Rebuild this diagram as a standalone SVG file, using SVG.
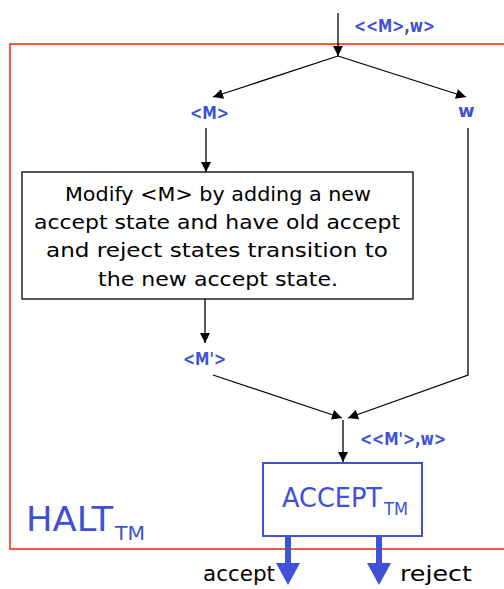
<svg xmlns="http://www.w3.org/2000/svg" width="504" height="589" viewBox="0 0 504 589">
  <defs>
    <marker id="arr" viewBox="0 0 10 10" refX="10" refY="5" markerWidth="11" markerHeight="10" markerUnits="userSpaceOnUse" orient="auto">
      <path d="M0,0 L10,5 L0,10 z" fill="#000"/>
    </marker>
    <style>
      .t { font-family: "Comic Sans MS", "DejaVu Sans", sans-serif; }
      .lbl { font-family: "Comic Sans MS", "DejaVu Sans", sans-serif; fill: #4050d8; font-size: 18px; font-weight: bold; }
      .box-text { font-family: "Comic Sans MS", "DejaVu Sans", sans-serif; fill: #000; font-size: 19px; text-anchor: middle; }
      .conn { stroke: #000; stroke-width: 1.3; fill: none; }
      .blue { fill: #4050d8; }
    </style>
  </defs>

  <rect width="504" height="589" fill="#fff"/>

  <!-- outer machine boundary -->
  <g id="halt">
    <rect x="10" y="44" width="500" height="505" fill="none" stroke="#ff2a10" stroke-width="1.6"/>
    <text class="t blue" x="26" y="531" font-size="33" textLength="87" lengthAdjust="spacingAndGlyphs">HALT</text>
    <text class="t blue" x="115" y="540" font-size="20" textLength="30" lengthAdjust="spacingAndGlyphs">TM</text>
  </g>

  <!-- modifier step -->
  <g id="modify">
    <rect x="22" y="172" width="391" height="127" fill="#fff" stroke="#000" stroke-width="1.3"/>
    <text class="box-text" x="218" y="201" textLength="306" lengthAdjust="spacingAndGlyphs">Modify &lt;M&gt; by adding a new</text>
    <text class="box-text" x="217" y="229" textLength="366" lengthAdjust="spacingAndGlyphs">accept state and have old accept</text>
    <text class="box-text" x="217" y="257" textLength="342" lengthAdjust="spacingAndGlyphs">and reject states transition to</text>
    <text class="box-text" x="218" y="286" textLength="240" lengthAdjust="spacingAndGlyphs">the new accept state.</text>
  </g>

  <!-- decider for ACCEPT_TM -->
  <g id="accept-tm">
    <rect x="263" y="463" width="159" height="73" fill="#fff" stroke="#4050d8" stroke-width="2"/>
    <text class="t blue" x="282" y="507" font-size="26" textLength="100" lengthAdjust="spacingAndGlyphs">ACCEPT</text>
    <text class="t blue" x="384" y="515" font-size="17" textLength="24" lengthAdjust="spacingAndGlyphs">TM</text>
  </g>

  <!-- input/output labels -->
  <g id="labels">
    <text class="lbl" x="354" y="32" textLength="81" lengthAdjust="spacingAndGlyphs">&lt;&lt;M&gt;,w&gt;</text>
    <text class="lbl" x="190" y="119" textLength="39" lengthAdjust="spacingAndGlyphs">&lt;M&gt;</text>
    <text class="lbl" x="458" y="117">w</text>
    <text class="lbl" x="183" y="365" textLength="43" lengthAdjust="spacingAndGlyphs">&lt;M'&gt;</text>
    <text class="lbl" x="360" y="445" textLength="86" lengthAdjust="spacingAndGlyphs">&lt;&lt;M'&gt;,w&gt;</text>
    <text class="t" x="203" y="581" font-size="21" textLength="72" lengthAdjust="spacingAndGlyphs">accept</text>
    <text class="t" x="400" y="581" font-size="21" textLength="72" lengthAdjust="spacingAndGlyphs">reject</text>
  </g>

  <!-- connectors -->
  <g id="connectors">
    <line class="conn" x1="338" y1="13" x2="338" y2="56" marker-end="url(#arr)"/>
    <line class="conn" x1="338" y1="56" x2="213" y2="97" marker-end="url(#arr)"/>
    <line class="conn" x1="338" y1="56" x2="466" y2="97" marker-end="url(#arr)"/>
    <line class="conn" x1="206" y1="128" x2="206" y2="172" marker-end="url(#arr)"/>
    <line class="conn" x1="205" y1="299" x2="205" y2="343" marker-end="url(#arr)"/>
    <polyline class="conn" points="468,128 468,375 348,418" marker-end="url(#arr)"/>
    <line class="conn" x1="213" y1="375" x2="342" y2="418" marker-end="url(#arr)"/>
    <line class="conn" x1="343" y1="420" x2="343" y2="462" marker-end="url(#arr)"/>
    <!-- thick result arrows -->
    <path class="blue" d="M285,536 h6 v27 h9 l-12,22 l-12,-22 h9 z"/>
    <path class="blue" d="M376,536 h6 v27 h9 l-12,22 l-12,-22 h9 z"/>
  </g>
</svg>
